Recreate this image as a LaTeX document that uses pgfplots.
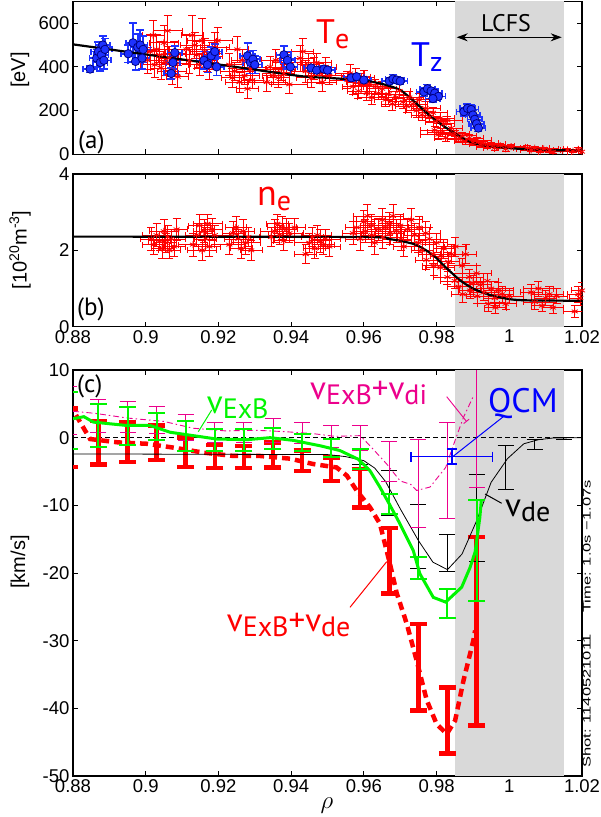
\documentclass[border=0pt]{standalone}
\usepackage{pgfplots}
\pgfplotsset{compat=1.18}
\usepackage{pgfplotstable}
\usepackage{fontspec}
\setmainfont{Liberation Sans}
\newfontfamily\ann{PT Sans}
\usetikzlibrary{arrows.meta}
\definecolor{lcfs}{RGB}{217,217,217}
\definecolor{mygreen}{RGB}{0,245,0}
\definecolor{tzblue}{RGB}{30,50,255}

\pgfplotstableread{
x y ex ey
0.9005 430 0.003 60
0.9012 470 0.004 80
0.9020 545 0.003 70
0.9025 410 0.004 60
0.9030 480 0.003 70
0.9038 455 0.005 60
0.9042 395 0.003 50
0.9050 510 0.004 80
0.9055 420 0.003 60
0.9060 565 0.004 70
0.9065 440 0.003 55
0.9072 380 0.004 60
0.9078 460 0.003 55
0.9082 415 0.004 50
0.9088 355 0.003 50
0.9112 480 0.005 70
0.9120 430 0.004 60
0.9128 545 0.003 90
0.9135 500 0.004 60
0.9140 455 0.005 60
0.9148 410 0.003 50
0.9155 520 0.004 100
0.9162 470 0.004 60
0.9168 430 0.003 50
0.9175 400 0.004 55
0.9182 450 0.003 60
0.9190 490 0.004 70
0.9198 520 0.004 60
0.9230 410 0.004 50
0.9238 350 0.003 45
0.9245 380 0.004 40
0.9252 480 0.003 60
0.9258 330 0.004 45
0.9265 430 0.003 50
0.9272 360 0.004 40
0.9280 300 0.003 45
0.9288 390 0.004 50
0.9293 340 0.003 40
0.9333 330 0.005 40
0.9342 400 0.004 50
0.9350 360 0.003 40
0.9358 430 0.004 50
0.9365 350 0.003 45
0.9372 390 0.004 50
0.9380 370 0.003 40
0.9388 420 0.004 45
0.9395 320 0.005 40
0.9425 440 0.004 60
0.9432 470 0.003 60
0.9440 380 0.004 50
0.9448 410 0.003 50
0.9455 350 0.004 45
0.9462 395 0.003 50
0.9470 420 0.004 40
0.9478 370 0.003 45
0.9485 330 0.004 40
0.9495 400 0.003 45
0.9505 360 0.004 40
0.9555 340 0.005 40
0.9562 370 0.004 40
0.9570 310 0.003 35
0.9578 355 0.004 40
0.9585 290 0.003 35
0.9592 330 0.004 40
0.9600 350 0.003 35
0.9608 280 0.004 35
0.9615 320 0.003 30
0.9622 260 0.004 30
0.9632 310 0.004 35
0.9640 280 0.003 30
0.9650 300 0.004 35
0.9660 250 0.003 30
0.9668 275 0.004 30
0.9678 230 0.003 30
0.9688 260 0.004 30
0.9698 290 0.003 35
0.9708 240 0.004 30
0.9718 220 0.003 30
0.9725 260 0.004 30
0.9735 230 0.004 30
0.9745 200 0.003 30
0.9752 250 0.004 30
0.9760 180 0.003 25
0.9770 210 0.004 30
0.9780 170 0.003 25
0.9790 190 0.004 25
0.9800 150 0.003 25
0.9810 165 0.004 25
0.9820 140 0.003 20
0.9830 155 0.004 20
0.9840 120 0.003 20
0.9795 110 0.004 20
0.9805 90 0.005 20
0.9815 100 0.004 20
0.9825 75 0.003 15
0.9850 95 0.004 15
0.9860 70 0.003 15
0.9870 85 0.004 15
0.9880 60 0.003 15
0.9890 75 0.004 15
0.9900 55 0.003 12
0.9910 65 0.004 12
0.9920 45 0.003 12
0.9930 50 0.004 10
0.9940 35 0.003 10
0.9950 45 0.004 10
0.9960 30 0.003 10
0.9975 40 0.004 10
0.9990 25 0.003 10
1.0005 35 0.004 10
1.0050 30 0.004 10
1.0060 20 0.003 8
1.0070 28 0.004 8
1.0085 15 0.003 8
1.0095 25 0.004 8
1.0110 18 0.003 8
1.0120 12 0.004 8
1.0160 20 0.004 8
1.0175 15 0.003 8
1.0190 22 0.004 8
1.0200 12 0.003 8
}\Tetab

\pgfplotstableread{
x y ex ey
0.8847 390 0.002 15
0.8865 440 0.002 40
0.8870 470 0.002 45
0.8875 420 0.002 40
0.8878 455 0.002 45
0.8882 500 0.002 40
0.8885 430 0.002 40
0.8888 480 0.002 50
0.8952 460 0.002 40
0.8965 510 0.002 90
0.8972 425 0.002 40
0.8978 490 0.002 60
0.8985 500 0.002 70
0.8990 440 0.002 50
0.8993 480 0.002 60
0.9070 370 0.002 25
0.9075 420 0.002 30
0.9080 465 0.002 30
0.9160 430 0.002 40
0.9170 410 0.002 35
0.9180 450 0.002 40
0.9190 470 0.002 35
0.9195 400 0.002 40
0.9280 450 0.002 60
0.9288 420 0.002 50
0.9295 435 0.002 40
0.9300 410 0.002 40
0.9380 455 0.002 40
0.9390 430 0.002 40
0.9398 400 0.002 35
0.9455 395 0.002 15
0.9470 385 0.002 15
0.9490 390 0.002 15
0.9500 385 0.002 15
0.9565 350 0.002 15
0.9580 355 0.002 15
0.9600 340 0.002 15
0.9670 335 0.002 15
0.9680 345 0.002 20
0.9690 340 0.002 15
0.9700 335 0.002 15
0.9765 285 0.002 20
0.9775 300 0.002 20
0.9785 290 0.002 15
0.9795 280 0.002 20
0.9805 265 0.002 15
0.9790 255 0.002 15
0.9875 195 0.002 20
0.9885 210 0.002 20
0.9895 205 0.002 20
0.9900 180 0.002 20
0.9905 160 0.002 15
0.9910 140 0.002 15
0.9915 120 0.002 15
}\Tztab

\pgfplotstableread{
x y
0.880 503
0.900 457
0.920 411
0.9425 358
0.950 350
0.9598 338
0.965 322
0.970 294
0.9745 232
0.9791 163
0.9837 110
0.9883 64
0.9928 41
1.002 26
1.0112 19
1.020 18
}\Tefit

\pgfplotstableread{
x y ex ey
0.9015 2.30 0.003 0.30
0.9022 2.15 0.003 0.25
0.9030 2.40 0.004 0.30
0.9038 2.25 0.003 0.25
0.9045 2.05 0.003 0.25
0.9050 2.50 0.004 0.30
0.9055 2.20 0.003 0.25
0.9060 2.35 0.003 0.30
0.9065 2.00 0.003 0.20
0.9070 2.30 0.004 0.25
0.9078 2.10 0.003 0.25
0.9085 2.55 0.003 0.30
0.9130 2.15 0.004 0.30
0.9140 2.40 0.003 0.30
0.9148 2.65 0.003 0.30
0.9155 2.00 0.004 0.25
0.9160 2.50 0.003 0.30
0.9165 2.30 0.003 0.30
0.9170 2.70 0.004 0.25
0.9175 2.10 0.003 0.25
0.9182 2.55 0.003 0.30
0.9190 2.40 0.004 0.25
0.9230 2.15 0.004 0.25
0.9240 2.45 0.003 0.30
0.9248 2.60 0.003 0.30
0.9255 2.30 0.004 0.25
0.9262 2.05 0.003 0.25
0.9268 2.50 0.003 0.30
0.9275 2.20 0.004 0.30
0.9282 2.35 0.003 0.25
0.9290 2.00 0.003 0.25
0.9345 2.35 0.003 0.25
0.9355 2.50 0.004 0.30
0.9362 2.70 0.003 0.25
0.9368 2.40 0.003 0.25
0.9375 2.60 0.004 0.30
0.9380 2.25 0.003 0.25
0.9388 2.55 0.003 0.30
0.9395 2.45 0.004 0.25
0.9410 2.60 0.003 0.25
0.9440 1.90 0.003 0.25
0.9450 2.20 0.004 0.25
0.9458 2.35 0.003 0.25
0.9465 2.05 0.003 0.25
0.9472 2.40 0.004 0.25
0.9480 2.25 0.003 0.30
0.9488 2.15 0.003 0.25
0.9495 2.30 0.004 0.25
0.9505 2.10 0.003 0.25
0.9570 2.45 0.003 0.30
0.9580 2.60 0.003 0.30
0.9590 2.30 0.004 0.30
0.9600 2.75 0.003 0.30
0.9603 2.50 0.003 0.30
0.9610 2.90 0.004 0.30
0.9620 2.65 0.003 0.30
0.9622 2.40 0.003 0.30
0.9630 2.20 0.004 0.30
0.9640 2.55 0.003 0.30
0.9650 2.80 0.003 0.30
0.9652 2.35 0.004 0.30
0.9660 2.60 0.003 0.30
0.9670 2.70 0.003 0.30
0.9672 2.45 0.004 0.30
0.9680 2.90 0.003 0.30
0.9690 2.50 0.003 0.30
0.9700 2.65 0.004 0.30
0.9702 2.30 0.003 0.30
0.9710 2.10 0.003 0.25
0.9720 2.55 0.004 0.30
0.9730 2.80 0.003 0.30
0.9740 2.40 0.003 0.30
0.9750 2.20 0.004 0.25
0.9752 2.60 0.003 0.30
0.9760 2.00 0.003 0.25
0.9770 2.45 0.004 0.30
0.9772 1.75 0.003 0.25
0.9780 2.30 0.003 0.30
0.9790 1.90 0.004 0.25
0.9792 1.60 0.003 0.25
0.9800 2.20 0.003 0.25
0.9810 1.55 0.004 0.25
0.9812 1.85 0.003 0.25
0.9820 2.05 0.003 0.25
0.9830 1.30 0.004 0.20
0.9832 1.70 0.003 0.25
0.9840 1.90 0.003 0.25
0.9850 1.20 0.004 0.20
0.9852 2.10 0.003 0.25
0.9860 1.05 0.003 0.20
0.9870 1.60 0.004 0.20
0.9872 0.85 0.003 0.20
0.9880 1.90 0.003 0.25
0.9890 1.30 0.004 0.20
0.9892 0.95 0.003 0.20
0.9900 1.15 0.003 0.20
0.9910 1.40 0.004 0.20
0.9912 0.80 0.003 0.20
0.9920 1.10 0.003 0.20
0.9930 0.90 0.004 0.20
0.9940 1.20 0.003 0.20
0.9942 0.60 0.003 0.20
0.9950 1.00 0.004 0.20
0.9960 0.75 0.003 0.20
0.9962 0.50 0.003 0.15
0.9970 0.95 0.004 0.20
0.9980 0.85 0.003 0.20
0.9990 0.60 0.003 0.15
1.0000 0.80 0.004 0.20
1.0060 0.90 0.003 0.20
1.0070 0.65 0.003 0.20
1.0080 1.00 0.004 0.20
1.0090 0.55 0.003 0.15
1.0100 0.75 0.003 0.20
1.0110 0.85 0.004 0.20
1.0120 0.50 0.003 0.15
1.0130 0.80 0.003 0.20
1.0180 0.40 0.003 0.15
1.0190 0.85 0.003 0.20
1.0195 0.75 0.003 0.20
1.0200 0.95 0.003 0.20
}\netab

\pgfplotstableread{
x y
0.880 2.36
0.960 2.35
0.9665 2.30
0.970 2.25
0.9745 2.14
0.979 1.88
0.9828 1.53
0.9864 1.22
0.990 1.00
0.9947 0.83
1.0002 0.72
1.005 0.69
1.020 0.68
}\nefit

\pgfplotstableread{
x y e
0.879 0.0 4.3
0.887 -0.75 3.25
0.895 -0.65 2.95
0.903 -0.75 2.55
0.911 -2.15 2.15
0.919 -2.8 1.7
0.927 -2.85 1.65
0.935 -2.55 1.85
0.943 -3.4 1.5
0.951 -4.65 1.75
0.959 -7.45 2.85
0.967 -18.2 4.85
0.975 -33.9 6.4
0.983 -41.8 4.9
0.991 -28.6 13.9
}\redbars

\pgfplotstableread{
x y
0.879 5.0
0.8847 -0.2
0.8925 -0.7
0.9003 -0.9
0.908 -1.5
0.9158 -2.2
0.9241 -2.7
0.9314 -2.7
0.9397 -3.1
0.9461 -3.9
0.9525 -4.4
0.9553 -5.6
0.958 -7.8
0.9617 -10.3
0.9644 -12.7
0.9672 -18.7
0.969 -22.9
0.9718 -27.5
0.9745 -32.9
0.9773 -38.8
0.980 -42.3
0.9828 -43.8
0.9851 -41.8
0.9874 -35.9
0.9901 -30.0
0.9906 -28.5
}\redline

\pgfplotstableread{
x y e
0.879 2.5 4.2
0.887 1.8 3.2
0.895 1.75 2.85
0.903 1.65 2.05
0.911 0.3 2.2
0.919 -0.3 1.6
0.927 -0.3 1.6
0.935 -0.1 1.6
0.943 -0.65 1.25
0.951 -1.55 1.35
0.959 -3.15 1.45
0.967 -9.8 1.5
0.975 -19.3 1.6
0.983 -24.5 2.1
0.991 -16.65 7.45
}\greenbars

\pgfplotstableread{
x y
0.880 2.8
0.883 3.1
0.8856 2.3
0.8948 1.8
0.9012 1.8
0.9067 0.8
0.9131 0.3
0.9195 -0.2
0.9278 -0.3
0.9342 0.0
0.9406 -0.4
0.948 -1.2
0.9534 -1.9
0.9585 -3.2
0.9617 -4.9
0.9644 -7.3
0.967 -9.8
0.9699 -12.7
0.9736 -16.7
0.9754 -20.1
0.9791 -23.6
0.9825 -24.3
0.9869 -22.1
0.9892 -19.2
0.9906 -16.9
0.9919 -11.8
0.9923 -9.3
}\greenline

\pgfplotstableread{
x y e
0.879 4.0 3.5
0.887 3.25 2.45
0.895 3.1 2.3
0.903 2.6 2.0
0.911 1.5 1.9
0.919 0.8 1.5
0.927 0.8 1.5
0.935 1.1 1.8
0.943 0.7 1.6
0.951 0.2 1.6
0.959 -0.05 1.85
0.967 -3.5 3.0
0.975 -6.7 6.5
0.983 -4.8 7.1
0.991 17 24.3
}\magbars

\pgfplotstableread{
x y
0.880 3.9
0.886 3.6
0.895 2.9
0.905 2.4
0.913 1.4
0.922 1.0
0.930 1.1
0.938 0.9
0.946 0.6
0.952 0.2
0.959 0.3
0.9617 -1.2
0.9663 -3.9
0.970 -6.4
0.9729 -6.9
0.9745 -7.8
0.9782 -7.3
0.9825 -4.4
0.9851 -0.4
0.9874 3.0
0.990 6.0
}\magline

\pgfplotstableread{
x y e
0.959 -2.8 1.1
0.967 -8.15 3.35
0.975 -14.6 4.7
0.983 -17.0 2.7
0.991 -11.9 6.4
0.999 -4.45 3.25
1.007 -0.95 0.75
1.015 -0.1 0.2
}\blackbars

\pgfplotstableread{
x y
0.880 -2.4
0.950 -2.5
0.955 -2.8
0.960 -3.4
0.963 -4.5
0.966 -6.5
0.970 -10.5
0.975 -15.2
0.979 -18.4
0.983 -19.5
0.987 -17.2
0.991 -12.3
0.995 -6.6
0.9995 -3.1
1.004 -0.9
1.008 -0.3
1.012 -0.05
1.020 0
}\blackline

\pgfplotstableread{
x y ex ey
0.9842 -2.8 0.0112 1.1
}\qcm

\pgfplotsset{
  myaxis/.style={
    scale only axis, width=509pt, anchor=south west,
    xmin=0.88, xmax=1.02,
    xtick={0.88,0.90,0.92,0.94,0.96,0.98,1.00,1.02},
    xticklabels={0.88,0.9,0.92,0.94,0.96,0.98,1,1.02},
    tick align=inside, major tick length=5pt, tick pos=both,
    axis line style={line width=1.2pt},
    every tick/.style={black, line width=0.9pt},
    ticklabel style={font=\fontsize{18.5}{18.5}\selectfont},
    clip=true,
  },
  ybars/.style 2 args={
    only marks, mark=text, text mark={}, color=#1,
    error bars/.cd, y dir=both, y explicit,
    error bar style={color=#1, line width=#2},
    error mark options={rotate=90, color=#1, line width=#2, mark size=4pt},
  },
  xbars/.style 2 args={
    only marks, mark=text, text mark={}, color=#1,
    error bars/.cd, x dir=both, x explicit,
    error bar style={color=#1, line width=#2},
    error mark options={rotate=90, color=#1, line width=#2, mark size=3pt},
  },
  cbars/.style n args={3}{
    only marks, mark=text, text mark={}, color=#1,
    error bars/.cd, y dir=both, y explicit,
    error bar style={color=#1, line width=#2},
    error mark options={rotate=90, color=#1, line width=#2, mark size=#3},
  },
}

\begin{document}
\begin{tikzpicture}
\useasboundingbox (0,0) rectangle (601pt,-817pt);

% ---------- panel (a) ----------
\begin{axis}[myaxis, at={(73pt,-154.3pt)}, height=153pt,
  ymin=0, ymax=700, ytick={0,200,400,600}, yticklabels={0,200,400,600},
  xticklabels={}]
\fill[lcfs] (axis cs:0.985,0) rectangle (axis cs:1.015,700);
\addplot[xbars={red}{0.75pt}] table[x=x, y=y, x error=ex] {\Tetab};
\addplot[ybars={red}{0.75pt}] table[x=x, y=y, y error=ey] {\Tetab};
\addplot[red, only marks, mark=asterisk, mark size=3.5pt, mark options={line width=0.8pt}] table[x=x, y=y] {\Tetab};
\addplot[xbars={tzblue}{1.6pt}] table[x=x, y=y, x error=ex] {\Tztab};
\addplot[ybars={tzblue}{1.6pt}] table[x=x, y=y, y error=ey] {\Tztab};
\addplot[blue, only marks, mark=*, mark size=4.2pt, mark options={fill=tzblue, draw=black!50!blue, line width=0.8pt}] table[x=x, y=y] {\Tztab};
\addplot[black, line width=2.2pt, smooth, tension=0.4] table[x=x, y=y] {\Tefit};
\end{axis}

% ---------- panel (b) ----------
\begin{axis}[myaxis, at={(73pt,-326.7pt)}, height=152.7pt,
  ymin=0, ymax=4, ytick={0,2,4}, yticklabels={0,2,4}]
\fill[lcfs] (axis cs:0.985,0) rectangle (axis cs:1.015,4);
\addplot[xbars={red}{0.75pt}] table[x=x, y=y, x error=ex] {\netab};
\addplot[ybars={red}{0.75pt}] table[x=x, y=y, y error=ey] {\netab};
\addplot[red, only marks, mark=asterisk, mark size=3.5pt, mark options={line width=0.8pt}] table[x=x, y=y] {\netab};
\addplot[black, line width=2.2pt, smooth, tension=0.4] table[x=x, y=y] {\nefit};
\end{axis}

% ---------- panel (c) ----------
\begin{axis}[myaxis, at={(73pt,-776pt)}, height=406pt,
  ymin=-50, ymax=10, ytick={-50,-40,-30,-20,-10,0,10},
  yticklabels={-50,-40,-30,-20,-10,0,10}]
\fill[lcfs] (axis cs:0.985,-50) rectangle (axis cs:1.015,10);
\draw[black, line width=0.8pt, dash pattern=on 5pt off 3pt] (axis cs:0.88,0) -- (axis cs:1.02,0);
\addplot[red, line width=4.5pt, dash pattern=on 8pt off 5pt] table[x=x, y=y] {\redline};
\addplot[cbars={red}{4.5pt}{8.5pt}] table[x=x, y=y, y error=e] {\redbars};
\addplot[black, line width=0.8pt] table[x=x, y=y] {\blackline};
\addplot[cbars={black}{0.9pt}{8pt}] table[x=x, y=y, y error=e] {\blackbars};
\addplot[magenta, line width=0.9pt, dash pattern=on 6pt off 3pt on 1.5pt off 3pt] table[x=x, y=y] {\magline};
\addplot[cbars={magenta}{0.9pt}{8pt}] table[x=x, y=y, y error=e] {\magbars};
\addplot[mygreen, line width=3pt] table[x=x, y=y] {\greenline};
\addplot[cbars={mygreen}{2pt}{8.5pt}] table[x=x, y=y, y error=e] {\greenbars};
\addplot[only marks, mark=text, text mark={}, color=blue,
  error bars/.cd, x dir=both, x explicit, y dir=both, y explicit,
  error bar style={color=blue, line width=1.5pt},
  error mark options={rotate=90, color=blue, line width=1.5pt, mark size=5pt}]
  table[x=x, y=y, x error=ex, y error=ey] {\qcm};
\end{axis}

% ---------- annotations ----------
\begin{scope}[x=1pt, y=1pt]
\node[rotate=90, font=\fontsize{20}{20}\selectfont] at (20,-70) {[eV]};
\node[rotate=90, font=\fontsize{20}{20}\selectfont] at (20,-250) {[10\textsuperscript{20}m\textsuperscript{-3}]};
\node[rotate=90, font=\fontsize{20}{20}\selectfont] at (20,-562) {[km/s]};
\node[font=\fontsize{24}{24}\selectfont] at (327,-806) {$\rho$};

\node[anchor=base west, inner sep=0, font=\ann\fontsize{25}{25}\selectfont] at (78,-148) {(a)};
\node[anchor=base west, inner sep=0, font=\ann\fontsize{25}{25}\selectfont] at (77,-315) {(b)};
\node[anchor=base west, inner sep=0, font=\ann\fontsize{25}{25}\selectfont] at (77,-392) {(c)};

\node[anchor=base west, inner sep=0, text=red, font=\ann\fontsize{34}{34}\selectfont] at (316,-43.3)
  {T\raisebox{-5pt}{\fontsize{28}{28}\selectfont e}};
\node[anchor=base west, inner sep=0, text=blue, font=\ann\fontsize{34}{34}\selectfont] at (411,-66.7)
  {T\raisebox{-5pt}{\fontsize{28}{28}\selectfont z}};
\node[anchor=base west, inner sep=0, text=red, font=\ann\fontsize{36}{36}\selectfont] at (257,-205)
  {n\raisebox{-5pt}{\fontsize{28}{28}\selectfont e}};

\node[anchor=base west, inner sep=0, font=\ann\fontsize{24}{24}\selectfont] at (481,-31.7) {LCFS};
\draw[{Stealth[length=11pt,width=8pt]}-{Stealth[length=11pt,width=8pt]}, line width=1pt] (456.7,-37.3) -- (561.7,-37.3);

\node[anchor=base west, inner sep=0, text=mygreen, font=\ann\fontsize{33}{33}\selectfont] at (206.7,-413.3)
  {v\raisebox{-5pt}{\fontsize{28}{28}\selectfont ExB}};
\draw[mygreen, line width=1pt] (211.7,-410) -- (198.3,-431.7);

\node[anchor=base west, inner sep=0, text=magenta, font=\ann\fontsize{33}{33}\selectfont] at (310,-399)
  {v\raisebox{-5pt}{\fontsize{28}{28}\selectfont ExB}+v\raisebox{-5pt}{\fontsize{28}{28}\selectfont di}};
\draw[magenta, line width=0.9pt, -{Bar[width=7pt]}] (446.7,-396.7) -- (466.7,-421.7);

\node[anchor=base west, inner sep=0, text=blue, font=\ann\fontsize{34}{34}\selectfont] at (488,-412) {QCM};
\draw[blue, line width=1pt] (503.3,-416.7) -- (451,-458);

\node[anchor=base west, inner sep=0, text=black, font=\ann\fontsize{33}{33}\selectfont] at (505,-516.7)
  {v\raisebox{-5pt}{\fontsize{28}{28}\selectfont de}};
\draw[black, line width=1pt] (501.7,-503.3) -- (485,-494);

\node[anchor=base west, inner sep=0, text=red, font=\ann\fontsize{33}{33}\selectfont] at (226.7,-631.7)
  {v\raisebox{-5pt}{\fontsize{28}{28}\selectfont ExB}+v\raisebox{-5pt}{\fontsize{28}{28}\selectfont de}};
\draw[red, line width=1pt] (350,-607.3) -- (386.7,-561.7);

\node[rotate=90, anchor=base west, inner sep=0, font=\fontsize{11}{11}\selectfont] at (590.5,-768)
  {\scalebox{1.5}[1]{Shot: 1140521011\quad\ Time: 1.0s \textminus 1.07s}};
\end{scope}
\end{tikzpicture}
\end{document}
